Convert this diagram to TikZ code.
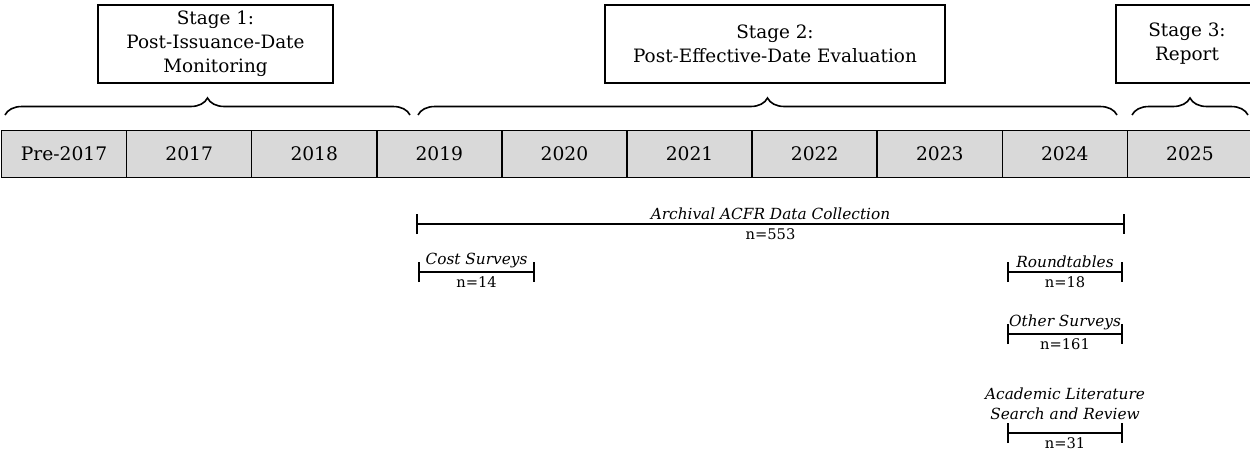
\documentclass[tikz,border=0pt]{standalone}
\usepackage{fontspec}
\setmainfont{DejaVu Serif}
\usetikzlibrary{arrows.meta}
\usetikzlibrary{decorations.pathreplacing}
\definecolor{cellgray}{RGB}{217,217,217}

\begin{document}
\begin{tikzpicture}[x=0.75pt,y=-0.75pt]
  \tikzset{stagebox/.style = {draw, line width=1.2pt, minimum height=58.5pt, inner sep=2pt, align=center, font=\fontsize{13.8}{18}\selectfont}}
  \tikzset{yearcell/.style = {draw, fill=cellgray, line width=1.2pt, minimum width=93.83pt, minimum height=35.25pt, inner sep=0pt, font=\fontsize{14}{16}\selectfont}}
  \tikzset{stagebrace/.style = {decorate, decoration={brace, amplitude=12.75pt}, line width=1.2pt}}
  \tikzset{span/.style = {line width=1.6pt, {Bar[width=15pt]}-{Bar[width=15pt]}}}
  \tikzset{spanlabel/.style = {font=\fontsize{11.5}{15}\selectfont\itshape, inner sep=2.5pt}}
  \tikzset{count/.style = {font=\fontsize{11}{13}\selectfont, inner sep=3pt}}

  \useasboundingbox (0,0) rectangle (1250,457);

  % year strip
  \foreach \yr [count=\i from 0] in {Pre-2017,2017,2018,2019,2020,2021,2022,2023,2024,2025}
    \node[yearcell] (y\i) at ({1.5+125.1*(\i+0.5)},154) {\yr};

  % stages
  \node[stagebox, minimum width=176.25pt] (S1) at (215.5,44) {Stage 1:\\Post-Issuance-Date\\Monitoring};
  \node[stagebox, minimum width=255pt] (S2) at (775,44) {Stage 2:\\Post-Effective-Date Evaluation};
  \node[stagebox, minimum width=106.5pt] (S3) at (1187,44) {Stage 3:\\Report};

  \coordinate (b1L) at (5,115);
  \coordinate (b1R) at (410,115);
  \coordinate (b2L) at (418,115);
  \coordinate (b2R) at (1117,115);
  \coordinate (b3L) at (1132,115);
  \coordinate (b3R) at (1248,115);
  \foreach \from/\to in {b1L/b1R, b2L/b2R, b3L/b3R}
    \draw[stagebrace] (\from) -- (\to);

  % data sources
  \coordinate (arcL) at (416,224);
  \coordinate (arcR) at (1125,224);
  \coordinate (costL) at (418,272);
  \coordinate (costR) at (535,272);
  \coordinate (rtL) at (1007,272);
  \coordinate (rtR) at (1123,272);
  \coordinate (othL) at (1007,334);
  \coordinate (othR) at (1123,334);
  \coordinate (acaL) at (1007,433);
  \coordinate (acaR) at (1123,433);

  \draw[span] (arcL) -- node[spanlabel, above]{Archival ACFR Data Collection} node[count, below]{n=553} (arcR);
  \draw[span] (costL) -- node[spanlabel, above]{Cost Surveys} node[count, below]{n=14} (costR);
  \draw[span] (rtL) -- node[spanlabel, above]{Roundtables} node[count, below]{n=18} (rtR);
  \draw[span] (othL) -- node[spanlabel, above]{Other Surveys} node[count, below]{n=161} (othR);
  \draw[span] (acaL) -- node[spanlabel, above, align=center, yshift=7pt]{Academic Literature\\Search and Review} node[count, below]{n=31} (acaR);

\end{tikzpicture}
\end{document}
